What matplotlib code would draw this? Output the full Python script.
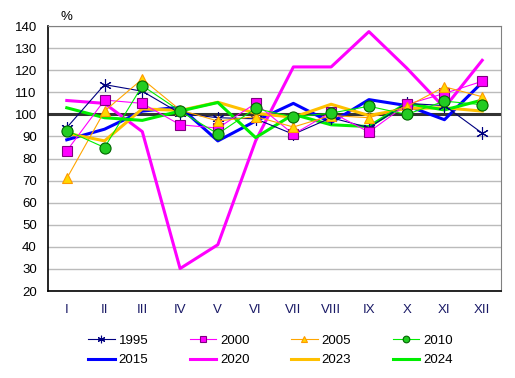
import matplotlib.pyplot as plt

plt.rcParams['font.family'] = ['Liberation Sans', 'DejaVu Sans']

months = ['I', 'II', 'III', 'IV', 'V', 'VI', 'VII', 'VIII', 'IX', 'X', 'XI', 'XII']

y1995 = [94, 113.5, 110.5, 100.5, 98.5, 98, 91, 98.5, 94, 105, 104, 91.5]
y2000 = [83.5, 106.5, 105, 95.3, 93.8, 105, 91, 101, 92, 104.5, 109.5, 115]
y2005 = [71, 101.5, 116, 102, 97, 99, 94.3, 99.5, 98.5, 103.5, 112.5, 108]
y2010 = [92.7, 85, 113, 101.5, 91.2, 102.7, 98.8, 100.6, 103.7, 100, 106, 104.4]
y2015 = [88.5, 93.3, 101.5, 103.3, 88, 97, 105, 96.3, 106.7, 104, 97.6, 114.5]
y2020 = [106.3, 105, 92.2, 30.2, 41, 88, 121.5, 121.5, 137.5, 121, 103, 124.5]
y2023 = [91.5, 88, 102.5, 101.8, 105.5, 100.5, 98.7, 104.6, 99.5, 102.7, 103, 101.5]
y2024 = [103, 98.5, 97.3, 101.5, 105.4, 89.5, 100, 95.3, 94.5, 105, 102, 106.5]

x = list(range(len(months)))

fig = plt.figure(figsize=(5.15, 3.78), dpi=100)
ax = fig.add_axes([0.093, 0.230, 0.880, 0.701])

# thick lines (no markers)
ax.plot(x, y2015, color='#0000ff', lw=2.2, label='2015', zorder=3)
ax.plot(x, y2020, color='#ff00ff', lw=2.2, label='2020', zorder=3)
ax.plot(x, y2023, color='#ffc000', lw=2.2, label='2023', zorder=3)
ax.plot(x, y2024, color='#00ee00', lw=2.2, label='2024', zorder=3)

# thin lines with markers
ax.plot(x, y1995, color='#000080', lw=0.8, marker=(6, 2, 0), ms=9, mew=0.8,
        label='1995', zorder=4)
ax.plot(x, y2000, color='#ff00ff', lw=0.8, marker='s', ms=7, mfc='#ff00ff',
        mec='#800080', mew=0.8, label='2000', zorder=4)
ax.plot(x, y2005, color='#ffa500', lw=0.8, marker='^', ms=7, mfc='#ffd700',
        mec='#ff9900', mew=0.8, label='2005', zorder=4)
ax.plot(x, y2010, color='#00ee00', lw=0.8, marker='o', ms=8, mfc='#22cc22',
        mec='#006600', mew=0.8, label='2010', zorder=4)

ax.axhline(100, color='#333333', lw=2.2, zorder=2.5)

ax.set_xlim(-0.5, 11.5)
ax.set_ylim(20, 140)
ax.set_yticks(range(20, 141, 10))
ax.set_xticks(x)
ax.set_xticklabels(months, color='#1a1a66')
ax.tick_params(axis='both', length=0, labelsize=9.5)
ax.tick_params(axis='x', pad=9)
ax.tick_params(axis='y', pad=8)
ax.yaxis.grid(True, color='#bbbbbb', lw=1)
ax.set_axisbelow(True)

for side in ['top', 'right']:
    ax.spines[side].set_color('#808080')
for side in ['left', 'bottom']:
    ax.spines[side].set_color('black')
    ax.spines[side].set_linewidth(1.2)

fig.text(0.118, 0.955, '%', fontsize=9.5, ha='left', va='center')

handles, labels = ax.get_legend_handles_labels()
hmap = dict(zip(labels, handles))
# legend fills column by column, so interleave the two rows
col_order = ['1995', '2015', '2000', '2020', '2005', '2023', '2010', '2024']
leg = fig.legend([hmap[k] for k in col_order], col_order, ncol=4,
                 loc='center', bbox_to_anchor=(0.525, 0.073), frameon=False,
                 fontsize=9.5, handlelength=2.0, handletextpad=0.3,
                 columnspacing=3.15, labelspacing=0.55, markerscale=0.6)

fig.savefig('out.png', dpi=100)
